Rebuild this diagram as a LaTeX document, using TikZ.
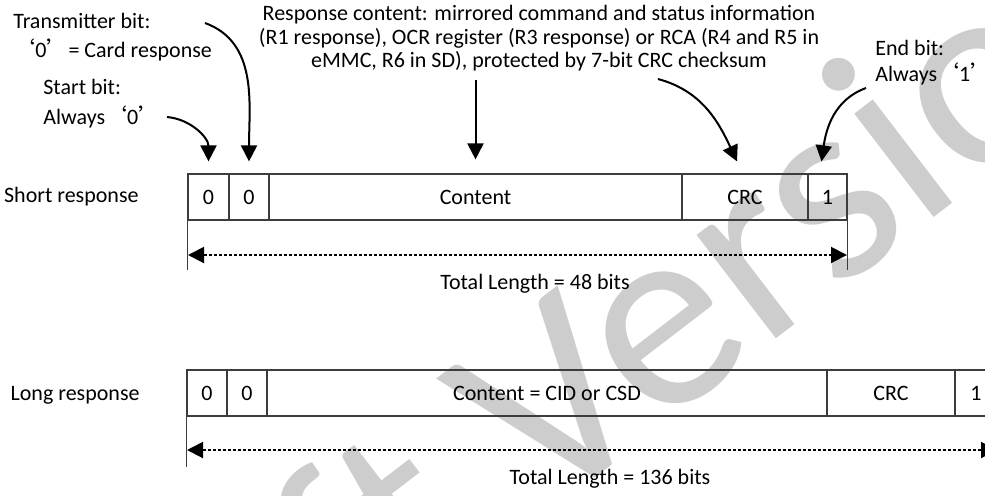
\documentclass[tikz,border=0pt]{standalone}
\usepackage{fontspec}
\setmainfont{Carlito}
\newfontfamily\cjk{Noto Sans CJK SC}
\usetikzlibrary{arrows.meta}

\begin{document}
\begin{tikzpicture}[x=0.5pt, y=0.5pt, font=\fontsize{11}{13}\selectfont]
    \definecolor{mywater}{RGB}{205,205,205}
    \definecolor{mybox}{RGB}{60,60,60}
    \tikzset{
        cellbox/.style={draw=mybox, line width=0.6pt, minimum height=23pt, inner sep=0pt},
        note/.style={inner sep=0pt, align=left},
        pointer/.style={-{Triangle[width=8pt,length=8pt]}, line width=1pt},
        span/.style={{Triangle[width=8pt,length=8pt]}-{Triangle[width=8pt,length=8pt]}, line width=1pt, dash pattern=on 1.5pt off 1pt},
        guide/.style={draw=mybox, line width=0.5pt}
    }

    \useasboundingbox (0,0) rectangle (985,-495);
    \clip (0,0) rectangle (985,-495);

    % watermark
    \node[anchor=base west, rotate=37.5, inner sep=0pt, text=mywater, font=\fontsize{136.5}{136.5}\selectfont] (watermark) at (53,-894) {Draft Version};

    % short response
    \node[note, anchor=east] (shortlbl) at (139,-197) {Short response};
    \node[cellbox, minimum width=20.5pt] (s0) at (208.5,-197) {0};
    \node[cellbox, minimum width=20pt] (s1) at (249,-197) {0};
    \node[cellbox, minimum width=206.5pt] (scont) at (475.5,-197) {Content};
    \node[cellbox, minimum width=63pt] (scrc) at (745,-197) {CRC};
    \node[cellbox, minimum width=19.5pt] (send) at (827.5,-197) {1};

    \draw[guide] (s0.south west) -- ++(0,-49);
    \draw[guide] (send.south east) -- ++(0,-49);
    \coordinate (sleft) at (188,-255);
    \coordinate (sright) at (847,-255);
    \draw[span] (sleft) -- (sright);
    \node (slen) at (535,-284) {Total Length = 48 bits};

    % long response
    \node[note, anchor=east] (longlbl) at (140,-395) {Long response};
    \node[cellbox, minimum width=20pt] (l0) at (207,-393) {0};
    \node[cellbox, minimum width=20pt] (l1) at (247,-393) {0};
    \node[cellbox, minimum width=280pt] (lcont) at (547,-393) {Content = CID or CSD};
    \node[cellbox, minimum width=64pt] (lcrc) at (891,-393) {CRC};
    \node[cellbox, minimum width=21pt] (lend) at (976,-393) {1};

    \draw[guide] (l0.south west) -- ++(0,-50);
    \draw[guide] (lend.south east) -- ++(0,-50);
    \coordinate (lleft) at (187,-450);
    \coordinate (lright) at (997,-450);
    \draw[span] (lleft) -- (lright);
    \node (llen) at (610,-479) {Total Length = 136 bits};

    % field notes
    \node[note, anchor=west, font=\fontsize{11}{14.5}\selectfont] (txlbl) at (13,-37.5)
        {Transmitter bit:\\{\cjk ‘}0{\cjk ’}= Card response};
    \node[note, anchor=west, font=\fontsize{11}{15}\selectfont] (startlbl) at (43,-104)
        {Start bit:\\Always{\cjk ‘}0{\cjk ’}};
    \node[align=center, font=\fontsize{11}{11.75}\selectfont] (contlbl) at (539,-38.5)
        {Response content: mirrored command and status information\\(R1 response), OCR register (R3 response) or RCA (R4 and R5 in\\eMMC, R6 in SD), protected by 7-bit CRC checksum};
    \node[note, anchor=west, font=\fontsize{11}{13}\selectfont] (endlbl) at (875,-63)
        {End bit:\\Always{\cjk ‘}1{\cjk ’}};

    \coordinate (txfrom) at (205,-23);
    \coordinate (startfrom) at (167,-117);
    \coordinate (contfrom) at (475.5,-80);
    \coordinate (crcfrom) at (658,-79);
    \coordinate (endfrom) at (866,-88);

    \draw[pointer] (startfrom) to[out=-5, in=90] ([yshift=6pt]s0.north);
    \draw[pointer] (txfrom) to[out=-20, in=90] ([yshift=6pt]s1.north);
    \draw[pointer] (contfrom) -- ([yshift=7pt]scont.north);
    \draw[pointer] (crcfrom) to[out=-15, in=115] ([xshift=-4pt,yshift=6pt]scrc.north);
    \draw[pointer] (endfrom) to[out=200, in=82] ([xshift=-3pt,yshift=6pt]send.north);
\end{tikzpicture}
\end{document}
